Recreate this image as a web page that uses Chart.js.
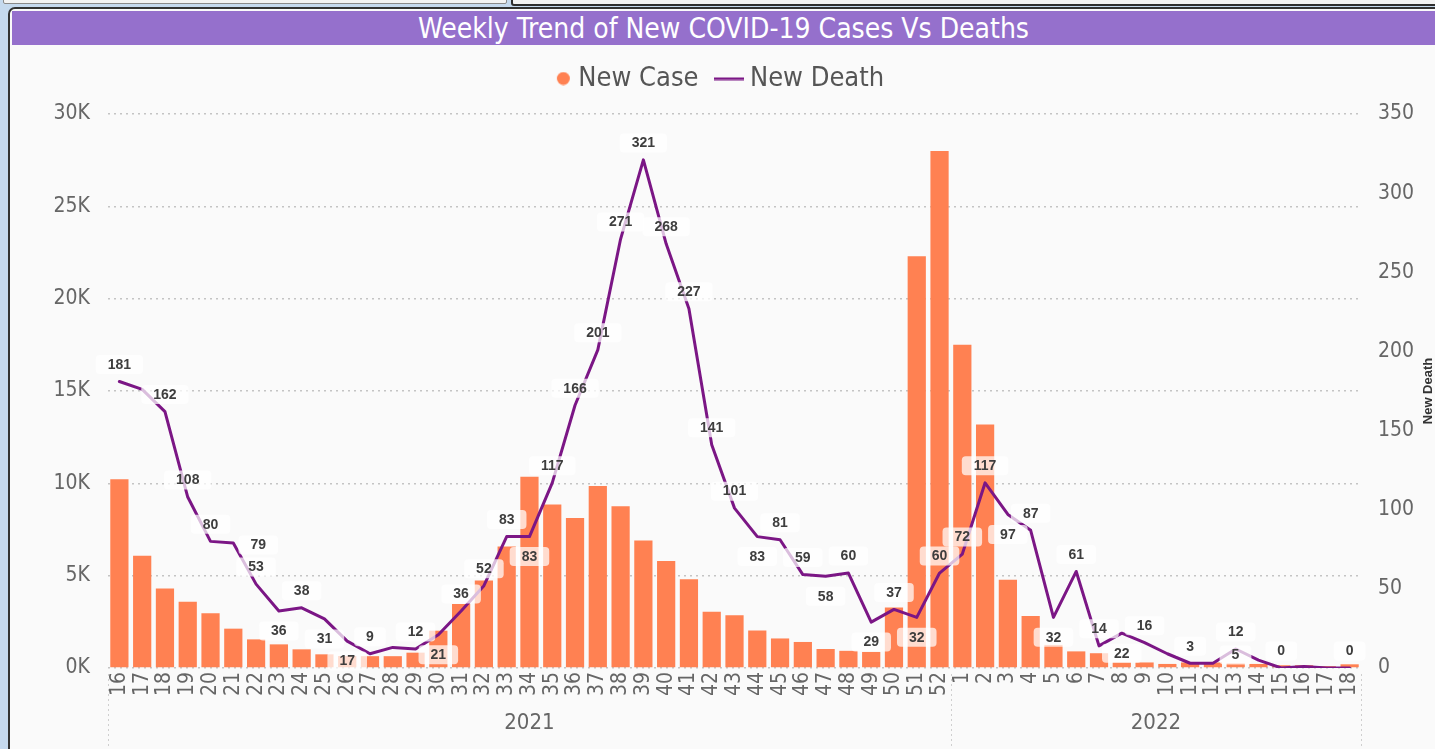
<!DOCTYPE html>
<html>
<head>
<meta charset="utf-8">
<script src="https://cdn.jsdelivr.net/npm/chart.js@4.4.0/dist/chart.umd.min.js"></script>
<style>
  html, body { margin:0; padding:0; width:1435px; height:749px; overflow:hidden; background:#c5d9ee; }
  #box1 { position:absolute; left:3px; top:-8px; width:502px; height:10px; border:1px solid #8a8a8a; background:#f3f3f3; border-radius:2px; }
  #box2 { position:absolute; left:511px; top:-8px; width:940px; height:10px; border:2px solid #2e2e2e; background:#f3f3f3; border-radius:3px; }
  #panel { position:absolute; left:8px; top:7px; width:1440px; height:760px; border:2px solid #333; border-radius:7px 0 0 0; background:#fafafa; }
  #title { position:absolute; left:12px; top:11px; width:1423px; height:34px; background:#9570cc; color:#fff;
           font-family:"DejaVu Sans Condensed","Roboto Condensed","DejaVu Sans",sans-serif; font-size:28px;
           text-align:center; line-height:36px; white-space:nowrap; }
  #c { position:absolute; left:0; top:0; }
</style>
</head>
<body>
<div id="box1"></div>
<div id="box2"></div>
<div id="panel"></div>
<div id="title">Weekly Trend of New COVID-19 Cases Vs Deaths</div>
<canvas id="c" width="1435" height="749"></canvas>
<script>
// ---- data ----
const weekLabels = ['16','17','18','19','20','21','22','23','24','25','26','27','28','29','30','31','32','33','34','35',
  '36','37','38','39','40','41','42','43','44','45','46','47','48','49','50','51','52',
  '1','2','3','4','5','6','7','8','9','10','11','12','13','14','15','16','17','18'];
const yearLabels = ['2021', '2022'];
const yearFirstIndex = [0, 37];
const newCases = [10220,6080,4310,3590,2960,2130,1550,1280,1010,740,650,640,640,830,2020,3460,4740,6580,10350,8860,
  8120,9860,8760,6910,5800,4800,3040,2850,2030,1600,1410,1030,930,870,3270,22300,28000,
  17500,13190,4780,2820,1250,900,800,300,300,220,300,300,250,220,150,150,100,200];
const newDeaths = [181,176,162,108,80,79,53,36,38,31,17,9,13,12,21,36,52,83,83,117,
  166,201,271,321,268,227,141,101,83,81,59,58,60,29,37,32,60,
  72,117,97,87,32,61,14,22,16,9,3,3,12,5,0,1,0,0];
const caseTicks = [0, 5000, 10000, 15000, 20000, 25000, 30000];
const deathTicks = [0, 50, 100, 150, 200, 250, 300, 350];

// label placement (style only)
const labelRules = {
  hidden: [1, 12, 46, 48, 52, 53],
  below: [7, 9, 10, 14, 18, 28, 31, 33, 35, 39, 41, 44],
  offsets: { 5: [25, 2], 50: [-23, -5] }
};

const COND = '"DejaVu Sans Condensed", "Roboto Condensed", "DejaVu Sans", sans-serif';
const CASE_COLOR = '#FF8152';
const DEATH_COLOR = '#7B1685';

// legend icons
function circleIcon() {
  const c = document.createElement('canvas'); c.width = 26; c.height = 14;
  const g = c.getContext('2d'); g.fillStyle = CASE_COLOR;
  g.beginPath(); g.arc(18.5, 7, 6.5, 0, Math.PI * 2); g.fill();
  return c;
}
function lineIcon() {
  const c = document.createElement('canvas'); c.width = 30; c.height = 4;
  const g = c.getContext('2d'); g.fillStyle = DEATH_COLOR; g.fillRect(0, 1, 30, 2.5);
  return c;
}
const icons = [circleIcon(), lineIcon()];

const LEGEND_TOP = 41, PLOT_TOP = 114;

const extras = {
  id: 'extras',
  beforeInit(chart) {
    const lg = chart.legend;
    if (lg) {
      const fit = lg.fit;
      lg.fit = function () { fit.call(this); this.height = PLOT_TOP - LEGEND_TOP; };
    }
  },
  afterDatasetsDraw(chart) {
    const meta = chart.getDatasetMeta(1);
    const ctx = chart.ctx;
    ctx.save();
    ctx.font = 'bold 14px "Liberation Sans", Arial, sans-serif';
    ctx.textAlign = 'center';
    ctx.textBaseline = 'middle';
    meta.data.forEach((pt, i) => {
      if (labelRules.hidden.includes(i)) return;
      const txt = String(newDeaths[i]);
      let x = pt.x, y;
      if (labelRules.offsets[i]) {
        x += labelRules.offsets[i][0]; y = pt.y + labelRules.offsets[i][1];
      } else {
        y = labelRules.below.includes(i) ? pt.y + 20 : pt.y - 17;
      }
      const w = ctx.measureText(txt).width + 24, h = 19;
      ctx.fillStyle = 'rgba(255,255,255,0.72)';
      ctx.beginPath();
      ctx.roundRect(x - w / 2, y - h / 2, w, h, 4);
      ctx.fill();
      ctx.fillStyle = '#3e3e3e';
      ctx.fillText(txt, x, y + 0.5);
    });
    ctx.restore();
  },
  afterDraw(chart) {
    const ctx = chart.ctx;
    const xs = chart.scales.x;
    const area = chart.chartArea;
    ctx.save();
    const bounds = [area.left];
    for (let k = 1; k < yearFirstIndex.length; k++) {
      bounds.push((xs.getPixelForValue(yearFirstIndex[k] - 1) + xs.getPixelForValue(yearFirstIndex[k])) / 2);
    }
    bounds.push(area.right);
    ctx.strokeStyle = '#cfcfcf';
    ctx.lineWidth = 1;
    ctx.setLineDash([2, 3]);
    bounds.forEach(bx => {
      ctx.beginPath(); ctx.moveTo(Math.round(bx) + 0.5, area.bottom + 6); ctx.lineTo(Math.round(bx) + 0.5, 749); ctx.stroke();
    });
    ctx.setLineDash([]);
    ctx.fillStyle = '#666';
    ctx.font = '22px ' + COND;
    ctx.textAlign = 'center';
    ctx.textBaseline = 'middle';
    yearLabels.forEach((yl, k) => {
      ctx.fillText(yl, (bounds[k] + bounds[k + 1]) / 2, 723);
    });
    ctx.translate(1428, 391);
    ctx.rotate(-Math.PI / 2);
    ctx.fillStyle = '#333';
    ctx.font = 'bold 13px "Liberation Sans", Arial, sans-serif';
    ctx.fillText('New Death', 0, 0);
    ctx.restore();
  }
};

new Chart(document.getElementById('c'), {
  data: {
    labels: weekLabels,
    datasets: [
      { type: 'bar', label: 'New Case', data: newCases, backgroundColor: CASE_COLOR, yAxisID: 'y', order: 2,
        categoryPercentage: 0.8, barPercentage: 1 },
      { type: 'line', label: 'New Death', data: newDeaths, borderColor: DEATH_COLOR, borderWidth: 3, pointRadius: 0,
        tension: 0, yAxisID: 'y1', order: 1, borderJoinStyle: 'round', borderCapStyle: 'round' }
    ]
  },
  options: {
    responsive: false,
    animation: false,
    layout: { padding: { top: LEGEND_TOP, left: 0, right: 0, bottom: 0 } },
    plugins: {
      tooltip: { enabled: false },
      legend: {
        position: 'top',
        labels: {
          usePointStyle: true,
          boxWidth: 14, boxHeight: 14,
          padding: 24,
          color: '#555',
          font: { family: COND, size: 27 },
          sort: (a, b) => a.datasetIndex - b.datasetIndex,
          generateLabels(chart) {
            return Chart.defaults.plugins.legend.labels.generateLabels(chart)
              .map(it => Object.assign(it, { pointStyle: icons[it.datasetIndex] }));
          }
        }
      }
    },
    scales: {
      x: {
        grid: { display: false, drawTicks: false },
        border: { display: false },
        ticks: { autoSkip: false, minRotation: 90, maxRotation: 90, padding: 4, color: '#666', font: { family: COND, size: 21 } },
        afterFit(s) { s.height = 81; }
      },
      y: {
        position: 'left', min: 0, max: 30000,
        afterBuildTicks(s) { s.ticks = caseTicks.map(v => ({ value: v })); },
        ticks: { callback: v => (v / 1000) + 'K', padding: 18, color: '#666', font: { family: COND, size: 21 } },
        grid: { color: '#c4c4c4', lineWidth: 1.5, drawTicks: false },
        border: { display: false, dash: [2, 4] },
        afterFit(s) { s.width = 108; }
      },
      y1: {
        position: 'right', min: 0, max: 350,
        afterBuildTicks(s) { s.ticks = deathTicks.map(v => ({ value: v })); },
        ticks: { padding: 17, color: '#666', font: { family: COND, size: 21 } },
        grid: { drawOnChartArea: false, drawTicks: false },
        border: { display: false },
        afterFit(s) { s.width = 74; }
      }
    }
  },
  plugins: [extras]
});
</script>
</body>
</html>
